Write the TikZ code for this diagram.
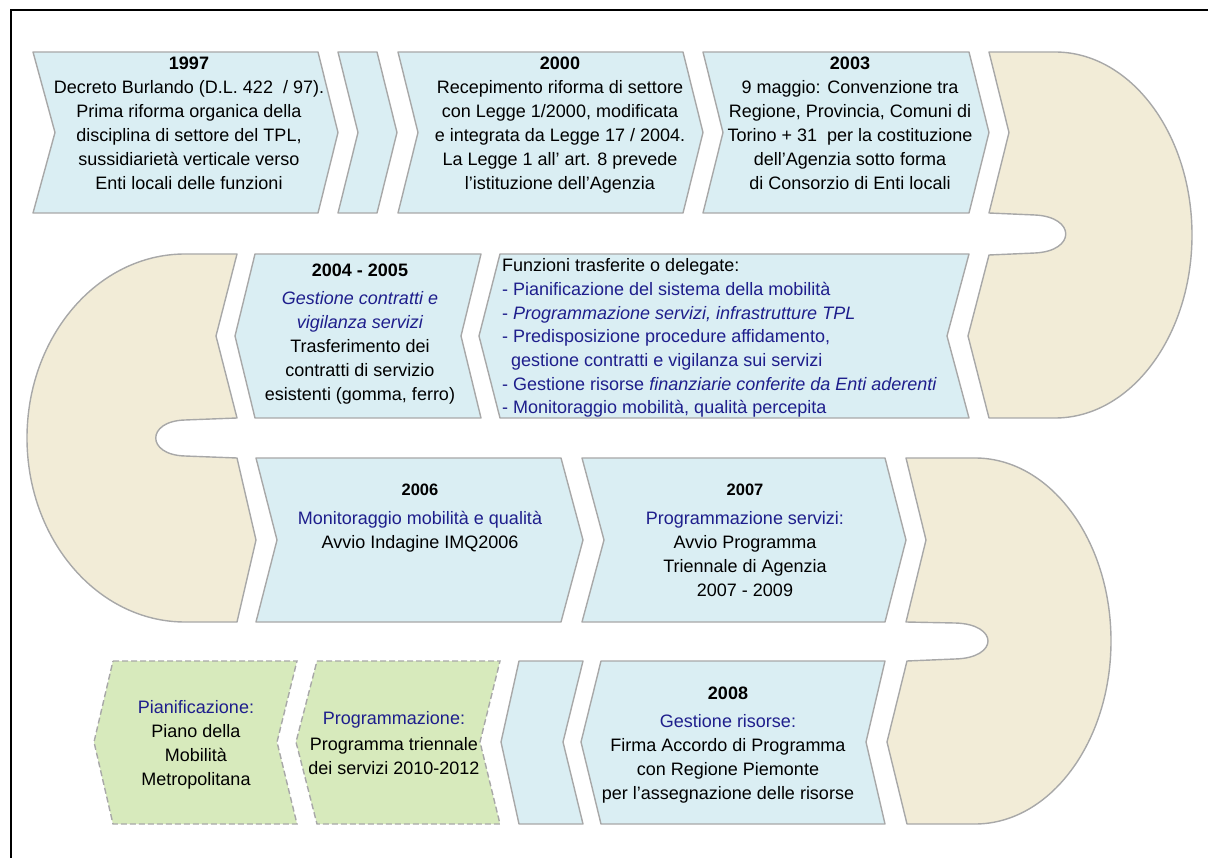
\documentclass[tikz,border=0pt]{standalone}
\usepackage{fontspec}
\setmainfont{Liberation Sans}
\definecolor{lblue}{RGB}{218,238,243}
\definecolor{beige}{RGB}{242,236,215}
\definecolor{lgreen}{RGB}{215,234,188}
\definecolor{edgegray}{RGB}{168,168,168}
\definecolor{navy}{RGB}{30,30,140}
\begin{document}
\begin{tikzpicture}[x=1pt,y=-1pt,
  bluebox/.style={fill=lblue,draw=edgegray,line width=1.4pt,line join=round},
  beigebox/.style={fill=beige,draw=edgegray,line width=1.4pt,line join=round},
  greenbox/.style={fill=lgreen,draw=edgegray,line width=1.4pt,dash pattern=on 6pt off 3pt},
  txt/.style={font=\fontsize{18}{24}\selectfont,align=center,inner sep=0pt,anchor=north},
  txtl/.style={font=\fontsize{18}{23.7}\selectfont,align=left,inner sep=0pt,anchor=north west}]
\useasboundingbox (0,0) rectangle (1208,858);
% frame
\draw[line width=2pt] (11,858) -- (11,10) -- (1210,10);

% ---------- row 1 ----------
\path[bluebox] (33,52) -- (318,52) -- (338,132.5) -- (318,213) -- (33,213) -- (55,132.5) -- cycle;
\path[bluebox] (338,52) -- (377,52) -- (397,132.5) -- (377,213) -- (338,213) -- (358,132.5) -- cycle;
\path[bluebox] (398,52) -- (683,52) -- (703,132.5) -- (683,213) -- (398,213) -- (418,132.5) -- cycle;
\path[bluebox] (703,52) -- (969,52) -- (989,132.5) -- (969,213) -- (703,213) -- (723,132.5) -- cycle;
% right beige 1
\path[beigebox] (989,52) -- (1055,52) .. controls (1130.7,52) and (1192,134) .. (1192,235)
  .. controls (1192,336) and (1130.7,418) .. (1055,418) -- (989,418) -- (968,336) -- (989,255)
  -- (1035,253) .. controls (1076,251) and (1076,217) .. (1035,215) -- (989,213) -- (1009,132.5) -- cycle;

% ---------- row 2 ----------
\path[bluebox] (255,254) -- (481,254) -- (461,336) -- (481,418) -- (255,418) -- (235,336) -- cycle;
\path[bluebox] (500,254) -- (969,254) -- (947,336) -- (969,418) -- (500,418) -- (479,336) -- cycle;
% left beige
\path[beigebox] (237,254) -- (216,336) -- (237,418) -- (185,420) .. controls (146,421) and (146,455) .. (185,456)
  -- (237,458) -- (256,540) -- (237,622) -- (185,622) .. controls (97.7,622) and (27,539.6) .. (27,438)
  .. controls (27,336.4) and (97.7,254) .. (185,254) -- cycle;

% ---------- row 3 ----------
\path[bluebox] (256,458) -- (561,458) -- (583,540) -- (561,622) -- (256,622) -- (277,540) -- cycle;
\path[bluebox] (582,458) -- (885,458) -- (906,540) -- (885,622) -- (582,622) -- (604,540) -- cycle;
% right beige 2
\path[beigebox] (906,458) -- (975,458) .. controls (1050.1,458) and (1111,540) .. (1111,641)
  .. controls (1111,742) and (1050.1,824) .. (975,824) -- (907,824) -- (887,742) -- (907,661)
  -- (955,659) .. controls (999,658) and (999,624) .. (955,623) -- (906,622) -- (926,540) -- cycle;

% ---------- row 4 ----------
\path[bluebox] (601,661) -- (885,661) -- (866,742) -- (885,824) -- (601,824) -- (581,742) -- cycle;
\path[bluebox] (519,661) -- (583,661) -- (563,742) -- (583,824) -- (519,824) -- (501,742) -- cycle;
\path[greenbox] (317,661) -- (500,661) -- (480,742) -- (500,824) -- (317,824) -- (296,742) -- cycle;
\path[greenbox] (113,661) -- (297,661) -- (277,742) -- (297,824) -- (113,824) -- (94,742) -- cycle;

% ---------- texts ----------
\node[txt] (t1997) at (189,56.5) {{\bfseries 1997}\\
Decreto Burlando (D.L. 422\ \ / 97).\\
Prima riforma organica della\\
disciplina di settore del TPL,\\
sussidiarietà verticale verso\\
Enti locali delle funzioni};

\node[txt] (t2000) at (560,56.5) {{\bfseries 2000}\\
Recepimento riforma di settore\\
con Legge 1/2000, modificata\\
e integrata da Legge 17 / 2004.\\
La Legge 1 all’ art. 8 prevede\\
l’istituzione dell’Agenzia};

\node[txt] (t2003) at (850,56.5) {{\bfseries 2003}\\
9 maggio: Convenzione tra\\
Regione, Provincia, Comuni di\\
Torino + 31\ \ per la costituzione\\
dell’Agenzia sotto forma\\
di Consorzio di Enti locali};

\node[txt] (t2004) at (360,263.5) {{\bfseries 2004 - 2005}\\[4pt]
{\color{navy}\itshape Gestione contratti e}\\
{\color{navy}\itshape vigilanza servizi}\\
Trasferimento dei\\
contratti di servizio\\
esistenti (gomma, ferro)};

\node[txtl] (tfunz) at (502,258.5) {Funzioni trasferite o delegate:\\
{\color{navy}- Pianificazione del sistema della mobilità}\\
{\color{navy}- \itshape Programmazione servizi, infrastrutture TPL}\\
{\color{navy}- Predisposizione procedure affidamento,}\\
{\color{navy}\hspace*{9pt}gestione contratti e vigilanza sui servizi}\\
{\color{navy}- Gestione risorse \itshape finanziarie conferite da Enti aderenti}\\
{\color{navy}- Monitoraggio mobilità, qualità percepita}};

\node[txt] (t2006) at (420,483.5) {{\bfseries\fontsize{16.5}{24}\selectfont 2006}\\[5pt]
{\color{navy}Monitoraggio mobilità e qualità}\\
Avvio Indagine IMQ2006};

\node[txt] (t2007) at (745,483.5) {{\bfseries\fontsize{16.5}{24}\selectfont 2007}\\[5pt]
{\color{navy}Programmazione servizi:}\\
Avvio Programma\\
Triennale di Agenzia\\
2007 - 2009};

\node[txt] (tpian) at (196,700.5) {{\color{navy}Pianificazione:}\\
Piano della\\
Mobilità\\
Metropolitana};

\node[txt] (tprog) at (394,711.5) {{\color{navy}Programmazione:}\\[2pt]
Programma triennale\\
dei servizi 2010-2012};

\node[txt] (t2008) at (728,686.5) {{\bfseries 2008}\\[4pt]
{\color{navy}Gestione risorse:}\\
Firma Accordo di Programma\\
con Regione Piemonte\\
per l'assegnazione delle risorse};
\end{tikzpicture}
\end{document}
